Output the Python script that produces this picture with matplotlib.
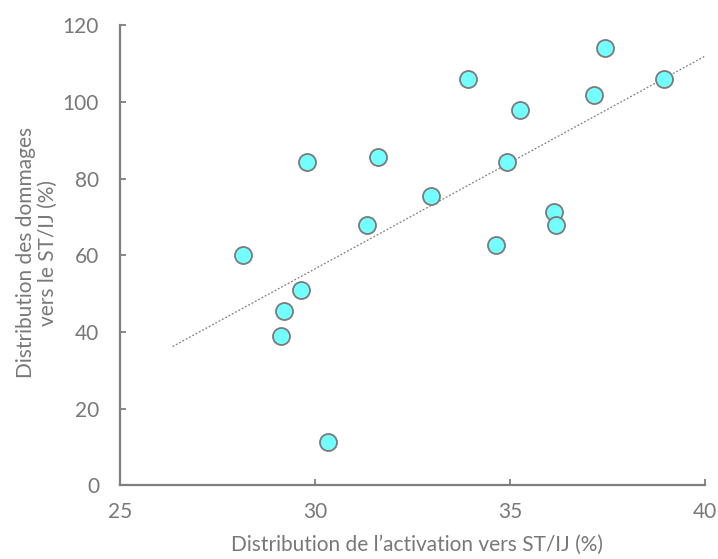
import numpy as np
import matplotlib
matplotlib.use("Agg")
import matplotlib.pyplot as plt

plt.rcParams['font.family'] = ['Lato', 'DejaVu Sans']

# activation share (x) vs damage share (y)
activation = [28.15, 29.79, 29.2, 29.13, 29.64, 30.33, 31.33, 31.62, 32.97,
              33.92, 35.26, 34.92, 34.64, 36.13, 36.18, 37.15, 37.44, 38.95]
dommages = [60.0, 84.3, 45.4, 38.9, 50.9, 11.2, 67.8, 85.5, 75.5,
            105.9, 97.8, 84.3, 62.6, 71.2, 67.8, 101.7, 114.0, 105.9]
trend_x = [26.35, 40.0]

xticks = [25, 30, 35, 40]
yticks = [0, 20, 40, 60, 80, 100, 120]

txt = '#787878'
axc = '#7f7f7f'

fig = plt.figure(figsize=(7.18, 5.59), dpi=100)
ax = fig.add_axes([0.167, 0.132, 0.815, 0.823])

# linear trend through the points
slope, icpt = np.polyfit(activation, dommages, 1)
tx = np.array(trend_x)
ax.plot(tx, slope * tx + icpt, linestyle=(0, (1.5, 1.5)), color='#808080', lw=0.9, zorder=1)

ax.scatter(activation, dommages, s=150, color='#74ffff', edgecolor='#7a7a7a',
           linewidth=1.3, zorder=3)

ax.set_xlim(25, 40)
ax.set_ylim(0, 120)
ax.set_xticks(xticks)
ax.set_yticks(yticks)
ax.spines['top'].set_visible(False)
ax.spines['right'].set_visible(False)
for s in ['left', 'bottom']:
    ax.spines[s].set_color(axc)
    ax.spines[s].set_linewidth(1.6)
ax.tick_params(direction='in', length=4, width=1.3, color=axc,
               labelcolor=txt, labelsize=15)
ax.tick_params(axis='y', pad=15)
ax.tick_params(axis='x', pad=12)

ax.set_xlabel('Distribution de l\u2019activation vers ST/IJ (%)', color=txt, fontsize=15)
ax.set_ylabel('Distribution des dommages\nvers le ST/IJ (%)', color=txt,
              fontsize=15, linespacing=1.1)
ax.xaxis.set_label_coords(0.507, -0.108)
ax.yaxis.set_label_coords(-0.106, 0.505)

fig.savefig('out.png', dpi=100)
